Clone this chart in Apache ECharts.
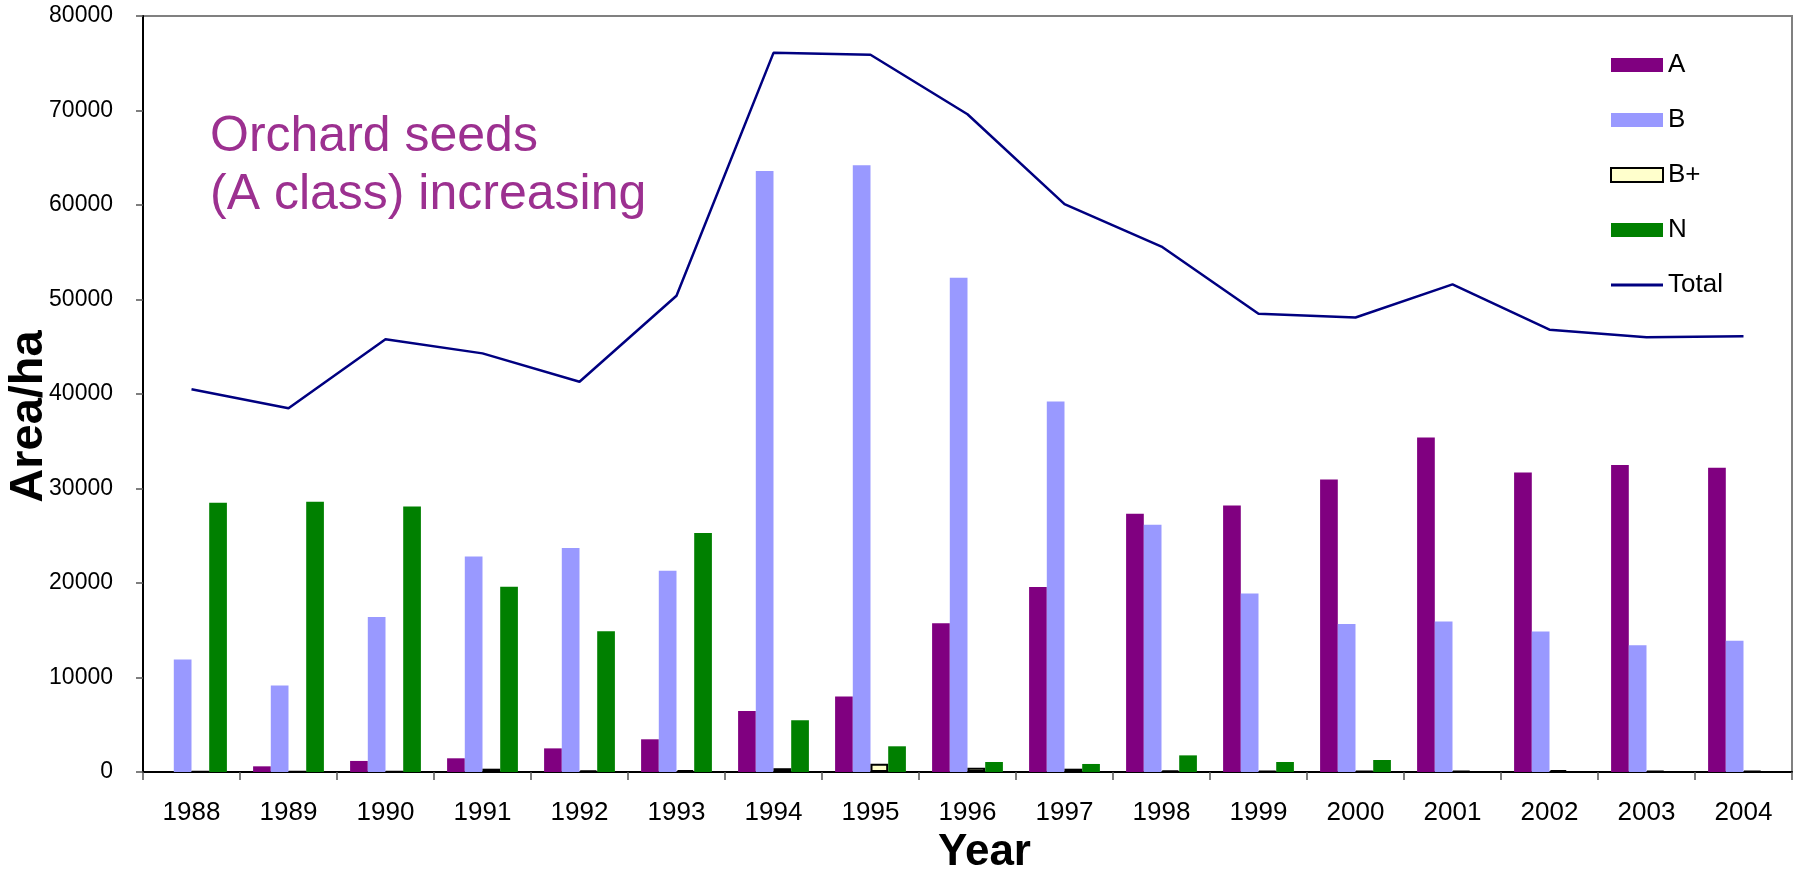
<!DOCTYPE html>
<html>
<head>
<meta charset="utf-8">
<script src="https://cdn.jsdelivr.net/npm/echarts@6/dist/echarts.min.js"></script>
<style>
  html, body { margin: 0; padding: 0; background: #fff; }
  #chart { width: 1802px; height: 875px; }
</style>
</head>
<body>
<div id="chart"></div>
<script>
// Seed orchard area by class, 1988-2004 (ha)
const years = ['1988','1989','1990','1991','1992','1993','1994','1995','1996','1997','1998','1999','2000','2001','2002','2003','2004'];
const classA  = [0, 600, 1170, 1450, 2500, 3460, 6460, 8000, 15750, 19570, 27340, 28190, 30940, 35390, 31700, 32500, 32200];
const classB  = [11900, 9150, 16400, 22800, 23700, 21300, 63600, 64200, 52300, 39200, 26170, 18900, 15650, 15930, 14870, 13420, 13880];
const classBp = [50, 50, 50, 350, 150, 200, 400, 880, 450, 350, 150, 100, 80, 100, 200, 100, 100];
const classN  = [28500, 28600, 28100, 19600, 14900, 25300, 5470, 2720, 1060, 850, 1760, 1060, 1270, 0, 0, 0, 0];
const total   = [40500, 38500, 45800, 44300, 41300, 50400, 76100, 75900, 69600, 60100, 55600, 48500, 48100, 51600, 46800, 46000, 46100];
const yTicks  = { min: 0, max: 80000, interval: 10000 };

const FONT = 'Liberation Sans, Arial, sans-serif';

const chart = echarts.init(document.getElementById('chart'), null, { renderer: 'canvas' });

chart.setOption({
  backgroundColor: '#ffffff',
  animation: false,
  grid: {
    left: 143, right: 10, top: 16, bottom: 103,
    containLabel: false,
    outerBoundsMode: 'none',
    show: true, borderColor: '#808080', borderWidth: 2, backgroundColor: 'transparent'
  },
  legend: {
    orient: 'vertical',
    left: 1605, top: 45,
    icon: 'rect',
    itemWidth: 52, itemHeight: 14, itemGap: 25,
    textStyle: { fontFamily: FONT, fontSize: 26, color: '#000', lineHeight: 30 },
    data: ['A', 'B', 'B+', 'N', { name: 'Total', icon: 'path://M0,0H52V3H0Z' }]
  },
  xAxis: {
    type: 'category',
    data: years,
    name: 'Year',
    nameLocation: 'middle',
    nameGap: 59,
    nameMoveOverlap: false,
    nameTextStyle: { fontFamily: FONT, fontSize: 44, fontWeight: 'bold', color: '#000', padding: [0, 0, 0, 34] },
    axisLine: { show: true, lineStyle: { color: '#000', width: 2 } },
    axisTick: { show: true, length: 8, inside: false, lineStyle: { color: '#555', width: 1.5 } },
    axisLabel: { fontFamily: FONT, fontSize: 26, color: '#000', margin: 28 },
    splitLine: { show: false }
  },
  yAxis: {
    type: 'value',
    min: yTicks.min, max: yTicks.max, interval: yTicks.interval,
    name: 'Area/ha',
    nameLocation: 'middle',
    nameRotate: 90,
    nameGap: 90,
    nameMoveOverlap: false,
    nameTextStyle: { fontFamily: FONT, fontSize: 47, fontWeight: 'bold', color: '#000', padding: [0, 45, 0, 0] },
    axisLine: { show: true, lineStyle: { color: '#000', width: 2 } },
    axisTick: { show: true, length: 7, inside: false, lineStyle: { color: '#555', width: 1.5 } },
    axisLabel: { fontFamily: FONT, fontSize: 23, color: '#000', margin: 30, formatter: (v) => String(v) },
    splitLine: { show: false }
  },
  series: [
    { name: 'A', type: 'bar', data: classA, barGap: '0%', barCategoryGap: '27%',
      itemStyle: { color: '#800080' } },
    { name: 'B', type: 'bar', data: classB, barGap: '0%', barCategoryGap: '27%',
      itemStyle: { color: '#9999FF' } },
    { name: 'B+', type: 'bar', data: classBp, barGap: '0%', barCategoryGap: '27%',
      itemStyle: { color: '#FFFFCC', borderColor: '#000', borderWidth: 2 } },
    { name: 'N', type: 'bar', data: classN, barGap: '0%', barCategoryGap: '27%',
      itemStyle: { color: '#008000' } },
    { name: 'Total', type: 'line', data: total, symbol: 'none', z: 5,
      lineStyle: { color: '#000080', width: 2.5 }, itemStyle: { color: '#000080' } }
  ],
  graphic: [
    {
      type: 'text',
      left: 210, top: 108,
      style: {
        text: 'Orchard seeds\n(A class) increasing',
        fontFamily: FONT, fontSize: 50, lineHeight: 58,
        fill: '#9C3090'
      }
    }
  ]
});
</script>
</body>
</html>
